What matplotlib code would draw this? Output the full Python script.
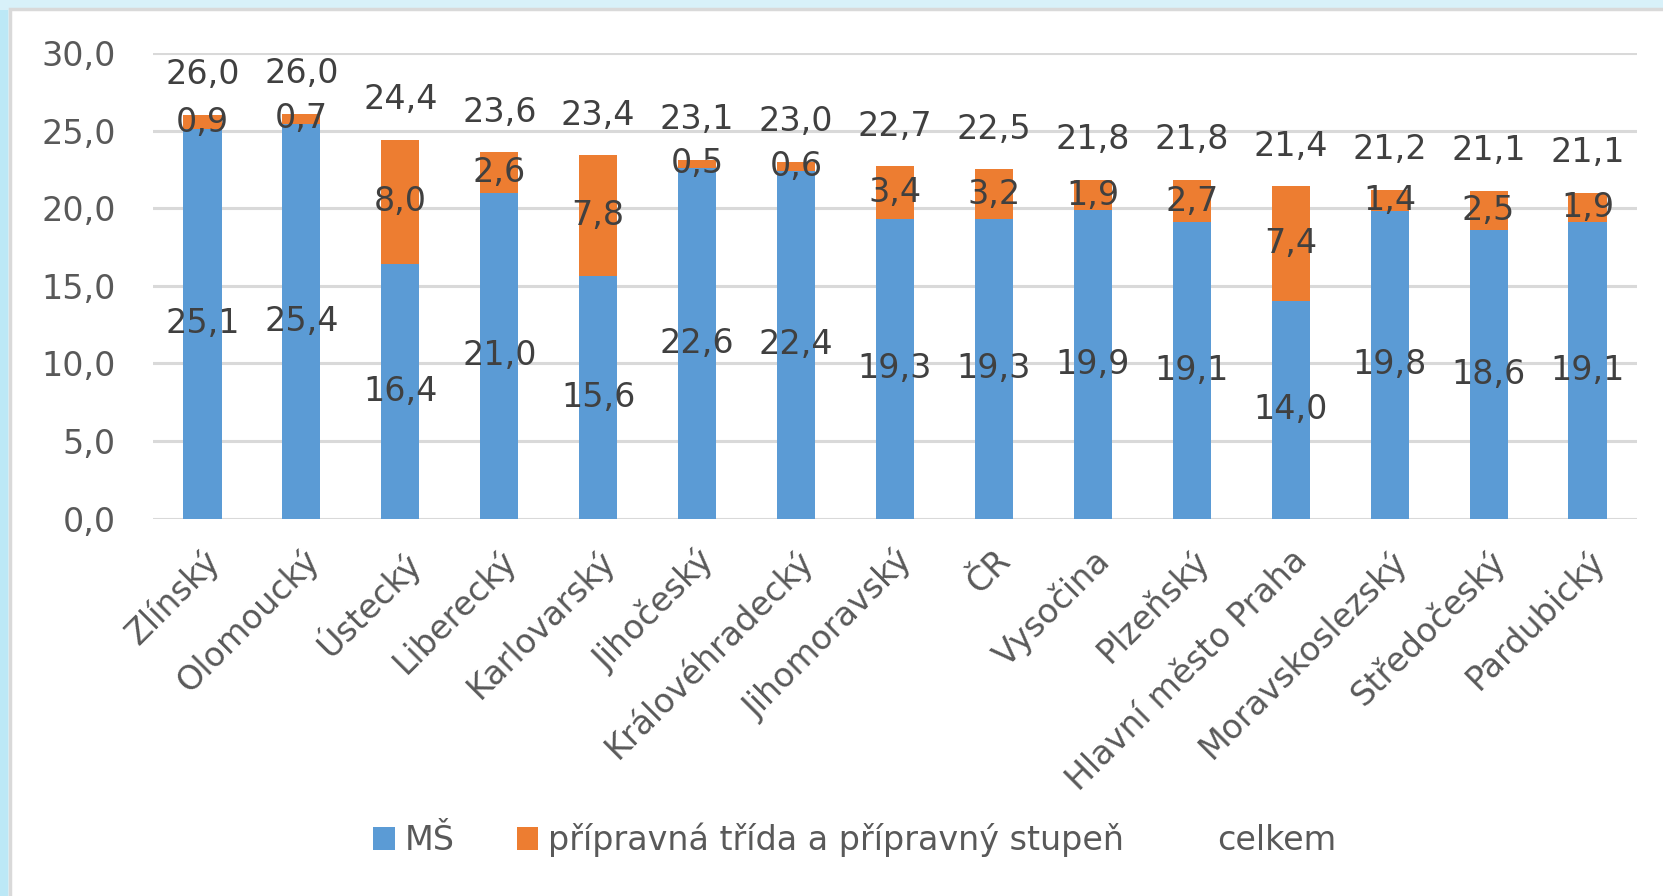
import matplotlib
matplotlib.use("Agg")
import matplotlib.pyplot as plt
from matplotlib.patches import Patch, Rectangle
import numpy as np

categories = ["Zlínský", "Olomoucký", "Ústecký", "Liberecký", "Karlovarský",
              "Jihočeský", "Královéhradecký", "Jihomoravský", "ČR", "Vysočina",
              "Plzeňský", "Hlavní město Praha", "Moravskoslezský", "Středočeský",
              "Pardubický"]
ms = [25.1, 25.4, 16.4, 21.0, 15.6, 22.6, 22.4, 19.3, 19.3, 19.9, 19.1, 14.0, 19.8, 18.6, 19.1]
pripravna = [0.9, 0.7, 8.0, 2.6, 7.8, 0.5, 0.6, 3.4, 3.2, 1.9, 2.7, 7.4, 1.4, 2.5, 1.9]
celkem = [26.0, 26.0, 24.4, 23.6, 23.4, 23.1, 23.0, 22.7, 22.5, 21.8, 21.8, 21.4, 21.2, 21.1, 21.1]
yticks = [0, 5, 10, 15, 20, 25, 30]
series_names = ["MŠ", "přípravná třída a přípravný stupeň", "celkem"]

BLUE = "#5B9BD5"
ORANGE = "#ED7D31"
GRID = "#D9D9D9"
TICK = "#595959"
LABEL = "#404040"
FS = 24

plt.rcParams["font.family"] = ["DejaVu Sans"]

W, H = 1663, 896
fig = plt.figure(figsize=(W / 100, H / 100), dpi=100, facecolor="#D8F1F9")
# white chart panel with grey border
fig.patches.append(Rectangle((10 / W, -0.01), 1.1, (H - 9) / H + 0.01,
                             transform=fig.transFigure, facecolor="white",
                             edgecolor=GRID, linewidth=2.5, zorder=-10))
# left lighter-blue strip
fig.patches.append(Rectangle((0, 0), 8 / W, 1 - 10 / H, transform=fig.transFigure,
                             facecolor="#BCE8F6", edgecolor="none", zorder=-10))

ax = fig.add_axes([153 / W, 1 - 518.6 / H, (1637 - 153) / W, (518.6 - 53) / H])
ax.set_facecolor("none")
ax.set_zorder(1)

x = np.arange(len(categories))
bw = 0.385
ax.bar(x, ms, bw, color=BLUE, zorder=2, label=series_names[0])
ax.bar(x, pripravna, bw, bottom=ms, color=ORANGE, zorder=2, label=series_names[1])

def fmt(v):
    return f"{v:.1f}".replace(".", ",")

for i in range(len(categories)):
    ax.text(x[i], ms[i] / 2, fmt(ms[i]), ha="center", va="center",
            fontsize=FS, color=LABEL, zorder=3)
    ax.text(x[i], ms[i] + pripravna[i] / 2, fmt(pripravna[i]), ha="center",
            va="center", fontsize=FS, color=LABEL, zorder=3)
    ax.annotate(fmt(celkem[i]), (x[i], ms[i] + pripravna[i]), xytext=(0, 29),
                textcoords="offset points", ha="center", va="center",
                fontsize=FS, color=LABEL, zorder=3)

ax.set_xlim(-0.5, len(categories) - 0.5)
ax.set_ylim(0, 30)
ax.set_yticks(yticks)
ax.set_yticklabels([fmt(v) for v in yticks], fontsize=FS, color=TICK)
ax.yaxis.grid(True, color=GRID, linewidth=2.2, zorder=0)
ax.set_axisbelow(True)
ax.set_xticks(x)
ax.set_xticklabels(categories, rotation=45, ha="right", rotation_mode="anchor",
                   fontsize=FS, color=TICK)
ax.tick_params(axis="both", length=0)
ax.tick_params(axis="y", pad=27)
ax.tick_params(axis="x", pad=18)
for s in ax.spines.values():
    s.set_visible(False)

handles = [Patch(facecolor=BLUE, edgecolor="none"),
           Patch(facecolor=ORANGE, edgecolor="none"),
           Patch(facecolor="none", edgecolor="none")]
leg = fig.legend(handles, series_names, loc="center", bbox_to_anchor=(855 / W, 1 - 840 / H),
                 ncol=3, frameon=False, fontsize=FS, handlelength=0.65, handleheight=0.65,
                 handletextpad=0.3, columnspacing=1.85)
for t in leg.get_texts():
    t.set_color(TICK)

fig.savefig("out.png", dpi=100, facecolor=fig.get_facecolor())
